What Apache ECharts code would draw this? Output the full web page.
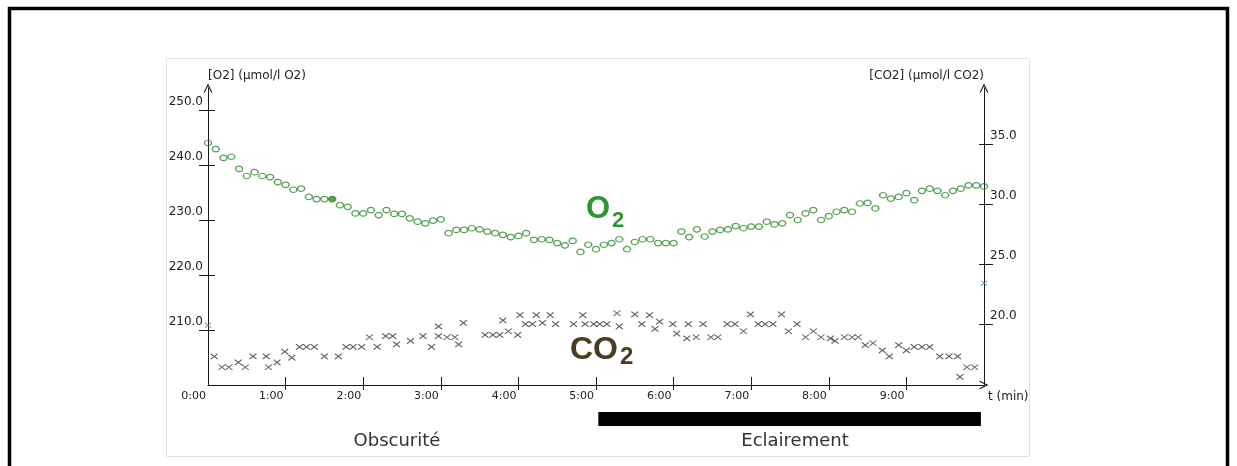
<!DOCTYPE html>
<html><head><meta charset="utf-8">
<script src="https://cdn.jsdelivr.net/npm/echarts@6/dist/echarts.min.js"></script>
<style>html,body{margin:0;padding:0;background:#fff}#c{width:1237px;height:466px}</style>
</head><body><div id="c"></div>
<script>
// ---- data ----
const sampleStepMin = 0.1; // one O2 reading every 6 s
const o2Values = [
  244.0,242.9,241.3,241.5,239.3,238.0,238.7,238.0,237.8,236.9,
  236.4,235.5,235.7,234.2,233.8,233.8,233.8,232.7,232.4,231.2,
  231.2,231.8,230.9,231.8,231.1,231.1,230.3,229.7,229.4,229.9,
  230.1,227.6,228.2,228.2,228.5,228.3,227.9,227.6,227.3,226.9,
  227.1,227.6,226.4,226.5,226.4,225.8,225.4,226.2,224.2,225.5,
  224.7,225.5,225.8,226.5,224.7,226.0,226.5,226.5,225.8,225.8,
  225.8,227.9,226.9,228.3,227.0,227.9,228.2,228.3,228.9,228.5,
  228.8,228.8,229.7,229.2,229.4,230.9,230.0,231.2,231.8,230.0,
  230.7,231.5,231.8,231.5,233.0,233.1,232.1,234.5,233.9,234.2,
  234.9,233.6,235.3,235.7,235.3,234.5,235.3,235.7,236.3,236.3,
  236.1
];
const co2Times = [
  0.08,0.18,0.27,0.39,0.48,0.58,0.75,0.78,0.89,0.99,
  1.08,1.18,1.27,1.37,1.50,1.68,1.78,1.87,1.98,2.08,
  2.18,2.29,2.38,2.43,2.61,2.77,2.88,2.97,2.97,3.08,
  3.18,3.23,3.29,3.57,3.67,3.76,3.80,3.87,3.99,4.02,
  4.09,4.18,4.23,4.31,4.41,4.48,4.71,4.83,4.86,4.97,
  5.05,5.14,5.27,5.30,5.50,5.59,5.69,5.76,5.82,5.99,
  6.04,6.17,6.19,6.29,6.38,6.48,6.57,6.69,6.79,6.90,
  6.99,7.09,7.18,7.28,7.39,7.48,7.59,7.70,7.80,7.90,
  8.02,8.08,8.20,8.30,8.38,8.47,8.57,8.69,8.78,8.90,
  9.00,9.10,9.20,9.30,9.43,9.55,9.66,9.69,9.78,9.88
];
const co2Values = [
  17.3,16.4,16.4,16.8,16.4,17.3,17.3,16.4,16.8,17.7,
  17.2,18.1,18.1,18.1,17.3,17.3,18.1,18.1,18.1,18.9,
  18.1,19.0,19.0,18.3,18.6,19.0,18.1,19.0,19.8,18.9,
  18.9,18.3,20.1,19.1,19.1,19.1,20.3,19.4,19.1,20.75,
  20.0,20.0,20.75,20.1,20.75,20.0,20.0,20.75,20.0,20.0,
  20.0,20.0,20.9,19.8,20.8,20.0,20.75,19.6,20.2,20.0,
  19.2,18.8,20.0,18.9,20.0,18.9,18.9,20.0,20.0,19.4,
  20.8,20.0,20.0,20.0,20.8,19.4,20.0,18.9,19.4,18.9,
  18.8,18.6,18.9,18.9,18.9,18.25,18.4,17.8,17.3,18.25,
  17.8,18.1,18.1,18.1,17.3,17.3,17.3,15.6,16.4,16.4
];
const cursorTimes = [0, 10];
const cursorValues = [19.9, 23.4];
const highlightIndex = 16;
const timeTicks = [0,1,2,3,4,5,6,7,8,9];
const timeLabels = ['0:00','1:00','2:00','3:00','4:00','5:00','6:00','7:00','8:00','9:00'];
const o2Ticks = [210,220,230,240,250];
const co2Ticks = [20,25,30,35];
const eclairementPeriod = [5.03, 9.96];

// ---- chart ----
const FONT = 'DejaVu Sans';
const AXIS = '#1a1a1a';
const O2C = '#2e8c2e';
const CO2C = '#3a3a3a';
const arrowPath = 'path://M0,10L5,0L10,10L8.6,10L5,2.8L1.4,10Z';
const crossPath = 'path://M0,0L10,8M10,0L0,8';
const O2MIN = 200, O2MAX = 254, CO2MIN = 14.92, CO2MAX = 39.67;

const o2Data = o2Values.map((v, i) => {
  const item = { value: [+(i * sampleStepMin).toFixed(2), v] };
  if (i === highlightIndex) item.itemStyle = { color: O2C };
  return item;
});
const co2Data = co2Times.map((t, i) => [t, co2Values[i]]);
const cursorData = cursorTimes.map((t, i) => [t, cursorValues[i]]);

const chart = echarts.init(document.getElementById('c'), null, { renderer: 'canvas' });
chart.setOption({
  animation: false,
  backgroundColor: '#fff',
  grid: [
    { left: 208, right: 253, top: 88, bottom: 81, outerBoundsMode: 'none', containLabel: false },
    { left: 208, right: 253, top: 412, height: 14, outerBoundsMode: 'none', containLabel: false }
  ],
  xAxis: [
    {
      type: 'value', gridIndex: 0, position: 'bottom', min: 0, max: 10, interval: 1,
      axisLine: { show: true, onZero: false, lineStyle: { color: AXIS, width: 1 }, symbol: ['none', arrowPath], symbolSize: [9, 9] },
      axisTick: { show: true, inside: true, length: 8, customValues: timeTicks.filter(v => v > 0), lineStyle: { color: AXIS } },
      axisLabel: {
        customValues: timeTicks,
        formatter: v => { const k = timeTicks.indexOf(v); return k >= 0 ? timeLabels[k] : ''; },
        align: 'right', margin: 6, padding: [0, 2, 0, 0],
        fontFamily: FONT, fontSize: 11, color: '#222'
      },
      splitLine: { show: false },
      name: 't (min)', nameLocation: 'end', nameGap: 4, nameMoveOverlap: false,
      nameTextStyle: { fontFamily: FONT, fontSize: 12, color: '#222', align: 'left', verticalAlign: 'top', padding: [6, 0, 0, 0] }
    },
    {
      type: 'value', gridIndex: 0, position: 'bottom', min: 0, max: 10, interval: 1,
      axisLine: { show: false, onZero: false },
      axisTick: { show: true, inside: false, length: 5, customValues: timeTicks.filter(v => v > 0), lineStyle: { color: AXIS } },
      axisLabel: { show: false }, splitLine: { show: false }
    },
    { type: 'value', gridIndex: 1, min: 0, max: 10, show: false }
  ],
  yAxis: [
    {
      type: 'value', gridIndex: 0, position: 'left', min: O2MIN, max: O2MAX,
      axisLine: { show: true, onZero: false, lineStyle: { color: AXIS, width: 1 }, symbol: ['none', arrowPath], symbolSize: [9, 9] },
      axisTick: { show: true, inside: false, length: 9, customValues: o2Ticks, lineStyle: { color: AXIS } },
      axisLabel: {
        customValues: o2Ticks, formatter: v => v.toFixed(1),
        margin: 5, verticalAlign: 'bottom', padding: [0, 0, 2, 0],
        fontFamily: FONT, fontSize: 12, color: '#222'
      },
      splitLine: { show: false },
      name: '[O2] (\u00b5mol/l O2)', nameLocation: 'end', nameGap: 6, nameMoveOverlap: false,
      nameTextStyle: { fontFamily: FONT, fontSize: 12, color: '#222', align: 'left', verticalAlign: 'bottom' }
    },
    {
      type: 'value', gridIndex: 0, position: 'right', min: CO2MIN, max: CO2MAX,
      axisLine: { show: true, onZero: false, lineStyle: { color: AXIS, width: 1 }, symbol: ['none', arrowPath], symbolSize: [9, 9] },
      axisTick: { show: true, inside: false, length: 9, customValues: co2Ticks, lineStyle: { color: AXIS } },
      axisLabel: {
        customValues: co2Ticks, formatter: v => v.toFixed(1),
        margin: 6, verticalAlign: 'bottom', padding: [0, 0, 2, 0],
        fontFamily: FONT, fontSize: 12, color: '#222'
      },
      splitLine: { show: false },
      name: '[CO2] (\u00b5mol/l CO2)', nameLocation: 'end', nameGap: 6, nameMoveOverlap: false,
      nameTextStyle: { fontFamily: FONT, fontSize: 12, color: '#222', align: 'right', verticalAlign: 'bottom' }
    },
    {
      type: 'value', gridIndex: 0, position: 'left', min: O2MIN, max: O2MAX,
      axisLine: { show: false, onZero: false },
      axisTick: { show: true, inside: true, length: 7, customValues: o2Ticks, lineStyle: { color: AXIS } },
      axisLabel: { show: false }, splitLine: { show: false }
    },
    {
      type: 'value', gridIndex: 0, position: 'right', min: CO2MIN, max: CO2MAX,
      axisLine: { show: false, onZero: false },
      axisTick: { show: true, inside: true, length: 5, customValues: co2Ticks, lineStyle: { color: AXIS } },
      axisLabel: { show: false }, splitLine: { show: false }
    },
    { type: 'value', gridIndex: 1, min: 0, max: 1, show: false }
  ],
  series: [
    {
      type: 'scatter', name: 'O2', xAxisIndex: 0, yAxisIndex: 0, data: o2Data,
      symbol: 'circle', symbolSize: [7, 5.5],
      itemStyle: { color: 'rgba(0,0,0,0)', borderColor: O2C, borderWidth: 1.3 },
      emphasis: { disabled: true }, z: 3
    },
    {
      type: 'scatter', name: 'CO2', xAxisIndex: 0, yAxisIndex: 1, data: co2Data,
      symbol: crossPath, symbolSize: [7, 5.5],
      itemStyle: { color: 'rgba(0,0,0,0)', borderColor: CO2C, borderWidth: 1.1 },
      emphasis: { disabled: true }, z: 3
    },
    {
      type: 'scatter', name: 'curseur', xAxisIndex: 0, yAxisIndex: 1, data: cursorData,
      symbol: crossPath, symbolSize: [6, 5],
      itemStyle: { color: 'rgba(0,0,0,0)', borderColor: '#3a9a3a', borderWidth: 1.1 },
      emphasis: { disabled: true }, z: 4
    },
    {
      type: 'custom', name: 'Eclairement', xAxisIndex: 2, yAxisIndex: 4,
      data: [eclairementPeriod],
      renderItem: function (params, api) {
        const p0 = api.coord([api.value(0), 0]);
        const p1 = api.coord([api.value(1), 1]);
        return { type: 'rect', shape: { x: p0[0], y: p1[1], width: p1[0] - p0[0], height: p0[1] - p1[1] }, style: { fill: '#000' } };
      }
    }
  ],
  graphic: [
    { type: 'rect', z: -10, shape: { x: 9.5, y: 8.5, width: 1218, height: 600 }, style: { fill: 'none', stroke: '#000', lineWidth: 3.5 } },
    { type: 'rect', z: -9, shape: { x: 166.5, y: 58.5, width: 863, height: 398 }, style: { fill: 'none', stroke: '#e4e4e4', lineWidth: 1 } },
    { type: 'text', style: { text: 'O', x: 586, y: 209, fill: '#2f962f', font: 'bold 31px "Liberation Sans", Arial', verticalAlign: 'middle', align: 'left' } },
    { type: 'text', style: { text: '2', x: 612, y: 221, fill: '#2f962f', font: 'bold 22px "Liberation Sans", Arial', verticalAlign: 'middle', align: 'left' } },
    { type: 'text', style: { text: 'CO', x: 570, y: 350, fill: '#4a3c1c', font: 'bold 32px "Liberation Sans", Arial', verticalAlign: 'middle', align: 'left' } },
    { type: 'text', style: { text: '2', x: 620, y: 357, fill: '#4a3c1c', font: 'bold 24px "Liberation Sans", Arial', verticalAlign: 'middle', align: 'left' } },
    { type: 'text', style: { text: 'Obscurit\u00e9', x: 397, y: 441, fill: '#333', font: '18px "DejaVu Sans"', verticalAlign: 'middle', align: 'center' } },
    { type: 'text', style: { text: 'Eclairement', x: 795, y: 441, fill: '#333', font: '18px "DejaVu Sans"', verticalAlign: 'middle', align: 'center' } }
  ]
});
</script></body></html>
